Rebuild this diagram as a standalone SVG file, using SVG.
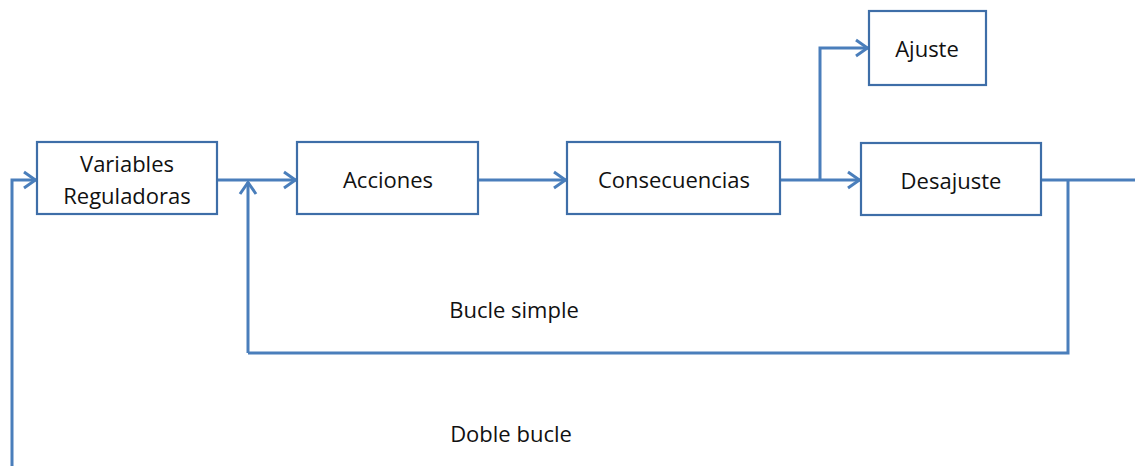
<svg xmlns="http://www.w3.org/2000/svg" width="1135" height="466" viewBox="0 0 1135 466">
  <style>
    .box { fill: #ffffff; stroke: #3e6ea8; stroke-width: 2.2; }
    .label { font-family: "Open Sans", "Liberation Sans", sans-serif; font-size: 22px; fill: #111111; text-anchor: middle; dominant-baseline: central; }
    .wire { fill: none; stroke: #4a7ebb; stroke-width: 3; }
  </style>
  <defs>
    <marker id="open-arrow" viewBox="0 0 20 20" refX="18" refY="10" markerWidth="20" markerHeight="20" markerUnits="userSpaceOnUse" orient="auto">
      <path d="M6,2 L17.5,10 L6,18" fill="none" stroke="#4a7ebb" stroke-width="3" stroke-linejoin="miter"/>
    </marker>
  </defs>
  <rect width="1135" height="466" fill="#ffffff"/>

  <g id="connectors">
    <path class="wire" d="M217,180 H296" marker-end="url(#open-arrow)"/>
    <path class="wire" d="M248,353 V182" marker-end="url(#open-arrow)"/>
    <path class="wire" d="M478,180 H566" marker-end="url(#open-arrow)"/>
    <path class="wire" d="M780,180 H860" marker-end="url(#open-arrow)"/>
    <path class="wire" d="M820,180 V48 H868" marker-end="url(#open-arrow)"/>
    <path class="wire" d="M1041,180 H1135"/>
    <path class="wire" d="M1068,180 V353 H248"/>
    <path class="wire" d="M12,466 V180 H36" marker-end="url(#open-arrow)"/>
  </g>

  <g id="variables-reguladoras">
    <rect class="box" x="37" y="142" width="180" height="72"/>
    <text class="label" x="127" y="163">Variables</text>
    <text class="label" x="127" y="195">Reguladoras</text>
  </g>
  <g id="acciones">
    <rect class="box" x="297" y="142" width="181" height="72"/>
    <text class="label" x="388" y="179">Acciones</text>
  </g>
  <g id="consecuencias">
    <rect class="box" x="567" y="142" width="213" height="72"/>
    <text class="label" x="674" y="179">Consecuencias</text>
  </g>
  <g id="desajuste">
    <rect class="box" x="861" y="143" width="180" height="72"/>
    <text class="label" x="951" y="180">Desajuste</text>
  </g>
  <g id="ajuste">
    <rect class="box" x="869" y="11" width="117" height="74"/>
    <text class="label" x="927" y="48">Ajuste</text>
  </g>

  <g id="loop-labels">
    <text class="label" x="514" y="309">Bucle simple</text>
    <text class="label" x="511" y="433">Doble bucle</text>
  </g>
</svg>
